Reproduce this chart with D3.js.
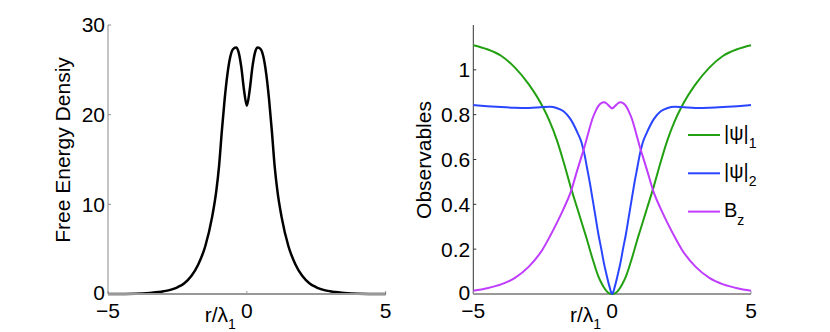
<!DOCTYPE html>
<html>
<head>
<meta charset="utf-8">
<script src="https://cdn.jsdelivr.net/npm/d3@7"></script>
<style>
  body { margin: 0; background: #fff; }
  svg { font-family: "Liberation Sans", Arial, sans-serif; }
</style>
</head>
<body>
<div id="chart"></div>
<script>
const width = 830;
const height = 332;

// r / lambda_1 sample points (denser near the core)
const rValues = [-5, -4.5, -4, -3.5, -3, -2.5, -2.25, -2, -1.75, -1.5, -1.25, -1.1, -1, -0.9, -0.8, -0.7, -0.6, -0.5, -0.39, -0.3, -0.2, -0.1, 0,
                 0.1, 0.2, 0.3, 0.39, 0.5, 0.6, 0.7, 0.8, 0.9, 1, 1.1, 1.25, 1.5, 1.75, 2, 2.25, 2.5, 3, 3.5, 4, 4.5, 5];

// left panel: free energy density
const energy = [0, 0.01, 0.03, 0.12, 0.3, 0.75, 1.2, 2.0, 3.3, 5.3, 8.6, 11.5, 14.3, 18.2, 21.7, 24.5, 26.4, 27.3, 27.5, 27.0, 25.3, 22.7, 21.0,
                22.7, 25.3, 27.0, 27.5, 27.3, 26.4, 24.5, 21.7, 18.2, 14.3, 11.5, 8.6, 5.3, 3.3, 2.0, 1.2, 0.75, 0.3, 0.12, 0.03, 0.01, 0];

// right panel: observables
const psi1 = [1.11, 1.092, 1.063, 1.01, 0.935, 0.835, 0.77, 0.69, 0.59, 0.48, 0.38, 0.32, 0.28, 0.24, 0.196, 0.155, 0.115, 0.08, 0.05, 0.03, 0.013, 0.003, 0,
              0.003, 0.013, 0.03, 0.05, 0.08, 0.115, 0.155, 0.196, 0.24, 0.28, 0.32, 0.38, 0.48, 0.59, 0.69, 0.77, 0.835, 0.935, 1.01, 1.063, 1.092, 1.11];
const psi2 = [0.843, 0.838, 0.834, 0.831, 0.830, 0.834, 0.835, 0.830, 0.815, 0.78, 0.72, 0.675, 0.625, 0.56, 0.494, 0.42, 0.345, 0.27, 0.20, 0.14, 0.085, 0.035, 0,
              0.035, 0.085, 0.14, 0.20, 0.27, 0.345, 0.42, 0.494, 0.56, 0.625, 0.675, 0.72, 0.78, 0.815, 0.830, 0.835, 0.834, 0.830, 0.831, 0.834, 0.838, 0.843];
const bz = [0.015, 0.026, 0.043, 0.072, 0.122, 0.2, 0.255, 0.315, 0.38, 0.452, 0.555, 0.615, 0.655, 0.70, 0.745, 0.785, 0.815, 0.838, 0.852, 0.855, 0.85, 0.838, 0.828,
            0.838, 0.85, 0.855, 0.852, 0.838, 0.815, 0.785, 0.745, 0.70, 0.655, 0.615, 0.555, 0.452, 0.38, 0.315, 0.255, 0.2, 0.122, 0.072, 0.043, 0.026, 0.015];

const xTicks = [-5, 0, 5];
const energyTicks = [0, 10, 20, 30];
const obsTicks = [0, 0.2, 0.4, 0.6, 0.8, 1];

const series = [
  {name: "|ψ|", sub: "1", values: psi1, color: "#22a012"},
  {name: "|ψ|", sub: "2", values: psi2, color: "#2a45ff"},
  {name: "B", sub: "z", values: bz, color: "#c03cff"}
];

const FONT = 21;

const svg = d3.select("#chart").append("svg")
  .attr("width", width)
  .attr("height", height);

const plotTop = 25, plotBottom = 294;

// ---- left panel ----
const xL = d3.scaleLinear().domain([-5, 5]).range([108, 385.7]);
const yL = d3.scaleLinear().domain([0, 30]).range([plotBottom, plotTop]);

function drawAxes(x, y, yTicks, yAxisColor) {
  const g = svg.append("g");
  // y axis line
  g.append("line")
    .attr("x1", x.range()[0]).attr("x2", x.range()[0])
    .attr("y1", y.range()[1]).attr("y2", y.range()[0])
    .attr("stroke", yAxisColor).attr("stroke-width", 1);
  // y ticks (inward)
  g.selectAll(".yt").data(yTicks).join("line")
    .attr("x1", x.range()[0]).attr("x2", x.range()[0] + 3)
    .attr("y1", d => y(d)).attr("y2", d => y(d))
    .attr("stroke", yAxisColor);
  g.selectAll(".yl").data(yTicks).join("text")
    .attr("x", x.range()[0] - 3)
    .attr("y", d => y(d) - (d === 0 ? 1.5 : 0))
    .attr("dy", "0.35em")
    .attr("text-anchor", "end")
    .attr("font-size", FONT)
    .text(d => d);
  // x ticks (inward)
  g.selectAll(".xt").data(xTicks).join("line")
    .attr("x1", d => x(d)).attr("x2", d => x(d))
    .attr("y1", y.range()[0]).attr("y2", y.range()[0] - 3)
    .attr("stroke", "#999");
  g.selectAll(".xl").data(xTicks).join("text")
    .attr("x", d => x(d))
    .attr("y", y.range()[0] + 23.5)
    .attr("text-anchor", "middle")
    .attr("font-size", FONT)
    .text(d => d < 0 ? "\u2212" + Math.abs(d) : d);
  // x label r/λ1
  const lab = g.append("text")
    .attr("x", x(0) - 11)
    .attr("y", y.range()[0] + 28)
    .attr("text-anchor", "end")
    .attr("font-size", FONT);
  lab.append("tspan").text("r/λ");
  lab.append("tspan").attr("font-size", 14).attr("dy", 7).text("1");
  return g;
}

drawAxes(xL, yL, energyTicks, "#888");

svg.append("text")
  .attr("transform", "translate(70,150) rotate(-90)")
  .attr("text-anchor", "middle")
  .attr("font-size", FONT)
  .text("Free Energy Densiy");

const lineL = d3.line()
  .x((d, i) => xL(rValues[i]))
  .y(d => yL(d))
  .curve(d3.curveMonotoneX);

svg.append("path")
  .attr("d", lineL(energy))
  .attr("fill", "none")
  .attr("stroke", "#000")
  .attr("stroke-width", 2.5);

// x axis line (gray, thick)
svg.append("line")
  .attr("x1", 108).attr("x2", 385.7)
  .attr("y1", plotBottom).attr("y2", plotBottom)
  .attr("stroke", "#999").attr("stroke-width", 2);

// ---- right panel ----
const xR = d3.scaleLinear().domain([-5, 5]).range([473.3, 751]);
const yR = d3.scaleLinear().domain([0, 1.2]).range([plotBottom, plotTop]);

drawAxes(xR, yR, obsTicks, "#333");

svg.append("text")
  .attr("transform", "translate(431,160) rotate(-90)")
  .attr("text-anchor", "middle")
  .attr("font-size", FONT)
  .text("Observables");

const lineR = d3.line()
  .x((d, i) => xR(rValues[i]))
  .y(d => yR(d))
  .curve(d3.curveMonotoneX);

svg.append("line")
  .attr("x1", 473.3).attr("x2", 751)
  .attr("y1", plotBottom).attr("y2", plotBottom)
  .attr("stroke", "#999").attr("stroke-width", 2);

series.forEach(s => {
  svg.append("path")
    .attr("d", lineR(s.values))
    .attr("fill", "none")
    .attr("stroke", s.color)
    .attr("stroke-width", 2);
});

// legend
const legend = svg.append("g").attr("transform", "translate(688,135)");
series.forEach((s, i) => {
  const row = legend.append("g").attr("transform", `translate(0,${i * 38.3})`);
  row.append("line")
    .attr("x1", 0).attr("x2", 32)
    .attr("stroke", s.color).attr("stroke-width", 2);
  const t = row.append("text")
    .attr("x", 36).attr("y", 5)
    .attr("font-size", 20);
  t.append("tspan").text(s.name);
  t.append("tspan").attr("font-size", 14).attr("dy", 8).text(s.sub);
});
</script>
</body>
</html>
